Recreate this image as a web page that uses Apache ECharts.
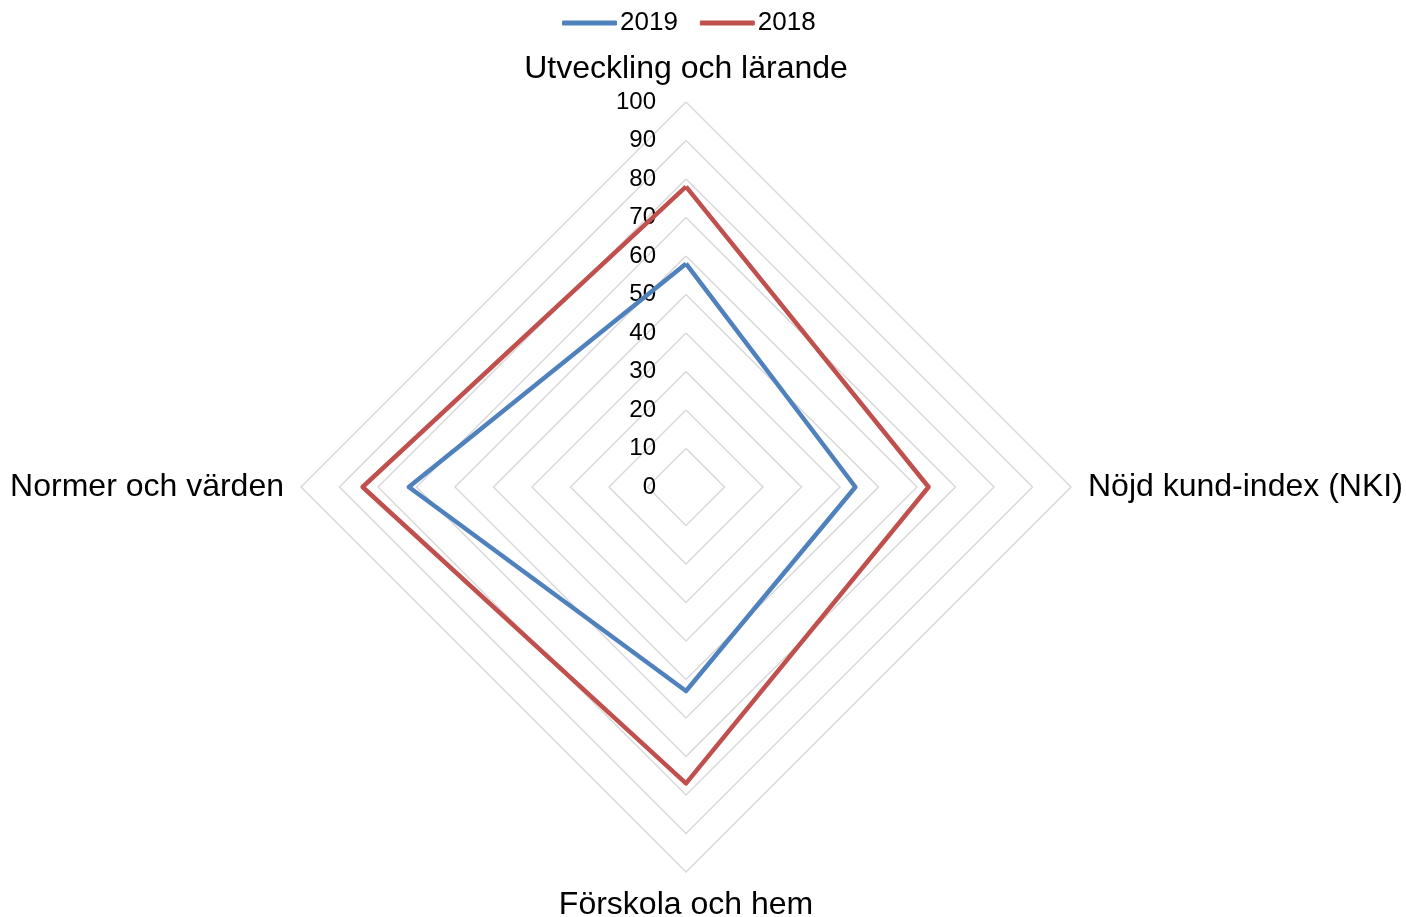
<!DOCTYPE html>
<html>
<head>
<meta charset="utf-8">
<script src="https://cdn.jsdelivr.net/npm/echarts@6/dist/echarts.min.js"></script>
<style>html,body{margin:0;padding:0;background:#fff;}#c{width:1406px;height:917px;}</style>
</head>
<body>
<div id="c"></div>
<script>
var categories = ['Utveckling och lärande', 'Normer och värden', 'Förskola och hem', 'Nöjd kund-index (NKI)'];
var seriesNames = ['2019', '2018'];
var values2019 = [58, 72, 53, 44];
var values2018 = [78, 84, 77, 63];
var axisMax = 100;

var chart = echarts.init(document.getElementById('c'));
var font = '"Liberation Sans", Arial, sans-serif';
chart.setOption({
  animation: false,
  legend: {
    top: 5,
    left: 557,
    data: seriesNames,
    icon: 'roundRect',
    itemWidth: 55,
    itemHeight: 5,
    itemGap: 22,
    textStyle: { fontFamily: font, fontSize: 26, color: '#000', padding: [0, 0, 0, -2] }
  },
  radar: {
    center: [686, 487],
    radius: 385,
    startAngle: 90,
    splitNumber: 10,
    shape: 'polygon',
    nameGap: 17,
    axisName: { fontFamily: font, fontSize: 32, color: '#000' },
    axisLine: { show: false },
    axisTick: { show: false },
    axisLabel: { show: false, fontFamily: font, fontSize: 24, color: '#000', margin: 30 },
    splitLine: { lineStyle: { color: '#d9d9d9', width: 1.5 } },
    splitArea: { show: false },
    indicator: categories.map(function (c, i) {
      var o = { name: c, min: 0, max: axisMax };
      if (i === 0) o.axisLabel = { show: true };
      return o;
    })
  },
  series: [{
    type: 'radar',
    symbol: 'none',
    data: [
      { name: seriesNames[0], value: values2019, lineStyle: { color: '#4F81BD', width: 4.5 }, itemStyle: { color: '#4F81BD' } },
      { name: seriesNames[1], value: values2018, lineStyle: { color: '#C0504D', width: 4.5 }, itemStyle: { color: '#C0504D' } }
    ]
  }]
});
</script>
</body>
</html>
